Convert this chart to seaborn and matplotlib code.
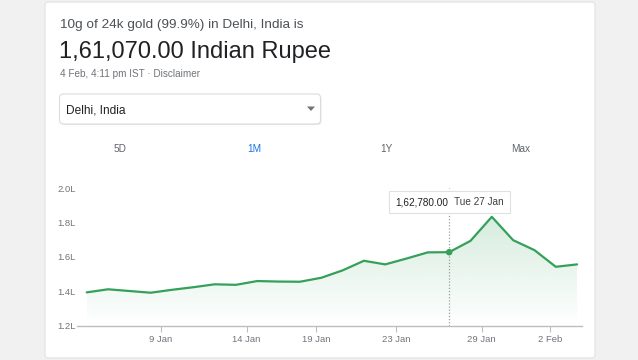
import numpy as np
import matplotlib
matplotlib.use("Agg")
import matplotlib.pyplot as plt
import seaborn as sns
from matplotlib.patches import FancyBboxPatch, Polygon
from matplotlib.offsetbox import TextArea, HPacker, AnnotationBbox

sns.set_theme(style="white")
plt.rcParams['font.family'] = ['Liberation Sans', 'DejaVu Sans']

# --- data (price in lakh rupees, one value per sample) ---
prices = [1.394, 1.412, 1.402, 1.392, 1.409, 1.424, 1.441, 1.438, 1.460, 1.457,
          1.456, 1.479, 1.522, 1.578, 1.557, 1.591, 1.627, 1.628, 1.694, 1.834,
          1.698, 1.640, 1.543, 1.557]
date_labels = ["9 Jan", "14 Jan", "19 Jan", "23 Jan", "29 Jan", "2 Feb"]
date_ticks = [3.47, 7.50, 10.75, 14.50, 18.52, 21.75]
y_ticks = [1.2, 1.4, 1.6, 1.8, 2.0]
hover_idx = 17
hover_value = "1,62,780.00"
hover_date = "Tue 27 Jan"
tabs = ["5D", "1M", "1Y", "Max"]

title_small = "10g of 24k gold (99.9%) in Delhi, India is"
title_big = "1,61,070.00 Indian Rupee"
stamp = "4 Feb, 4:11 pm IST · Disclaimer"
place = "Delhi, India"

green = "#34a05a"
grey_txt = "#70757a"

W, H = 638, 360
fig = plt.figure(figsize=(W / 100, H / 100), dpi=100)
fig.patch.set_facecolor("#f1f1f1")

# background layer in pixel coordinates (card, header, tabs)
bg = fig.add_axes([0, 0, 1, 1])
bg.set_xlim(0, W)
bg.set_ylim(H, 0)
bg.axis("off")
bg.add_patch(FancyBboxPatch((45, 2), 550, 356, boxstyle="round,pad=0,rounding_size=3",
                            fc="white", ec="#e2e2e2", lw=0.8))
bg.text(59.5, 27.7, title_small, fontsize=9.7, color="#4d5156", va="baseline")
bg.text(59, 58.3, title_big, fontsize=17, color="#202124", va="baseline")
bg.text(59.5, 76.7, stamp, fontsize=7.2, color=grey_txt, va="baseline")

# dropdown
bg.add_patch(FancyBboxPatch((60.5, 95), 261, 30, boxstyle="round,pad=0,rounding_size=4",
                            fc="#e9e9e9", ec="none", lw=0))
bg.add_patch(FancyBboxPatch((59.5, 94), 261, 30, boxstyle="round,pad=0,rounding_size=4",
                            fc="white", ec="#dadce0", lw=0.8))
bg.text(66, 113.3, place, fontsize=8.6, color="#202124", va="baseline")
bg.add_patch(Polygon([(307, 106.5), (315, 106.5), (311, 111)], closed=True, fc=grey_txt, ec="none"))

# range tabs
for lab, tx in zip(tabs, [120, 254, 386, 520.5]):
    bg.text(tx, 152.5, lab, fontsize=7.2, ha="center", va="baseline",
            color="#1a73e8" if lab == "1M" else "#5f6368")

# --- chart ---
ax = fig.add_axes([77 / W, (H - 325.7) / H, (582 - 77) / W, (325.7 - 188.3) / H])
ax.set_facecolor("none")
x = np.arange(len(prices))

# gradient fill under the line
poly = Polygon([(x[0], y_ticks[0])] + list(zip(x, prices)) + [(x[-1], y_ticks[0])],
               closed=True, fc="none", ec="none")
ax.add_patch(poly)
rgb = matplotlib.colors.to_rgb(green)
grad = np.zeros((256, 1, 4))
grad[..., :3] = rgb
grad[..., 3] = np.linspace(0.0, 0.2, 256).reshape(-1, 1)
im = ax.imshow(grad, extent=[x[0], x[-1], y_ticks[0], max(prices)], origin="lower",
               aspect="auto", zorder=1)
im.set_clip_path(poly)

ax.axvline(hover_idx, color="#9aa0a6", ls=(0, (1, 1.5)), lw=0.9, zorder=0.5)
sns.lineplot(x=x, y=prices, ax=ax, color=green, linewidth=1.6, zorder=3)
sns.scatterplot(x=[x[hover_idx]], y=[prices[hover_idx]], ax=ax, color=green, s=22,
                edgecolor="none", zorder=4)

ax.set_xlim(-0.455, 23.23)
ax.set_ylim(y_ticks[0], y_ticks[-1])
ax.set_xticks(date_ticks)
ax.set_xticklabels(date_labels)
ax.set_yticks(y_ticks)
ax.set_yticklabels([f"{v:.1f}L" for v in y_ticks])
ax.tick_params(axis="x", length=4, width=0.8, color="#bdbdbd", labelsize=6.8,
               labelcolor=grey_txt, pad=2.5, bottom=True)
ax.tick_params(axis="y", length=0, labelsize=6.8, labelcolor=grey_txt, pad=1)
for s in ["top", "right", "left"]:
    ax.spines[s].set_visible(False)
ax.spines["bottom"].set_color("#bdbdbd")
ax.spines["bottom"].set_linewidth(1)
ax.set_xlabel("")
ax.set_ylabel("")

# tooltip
ta1 = TextArea(hover_value, textprops=dict(color="#202124", size=7.2))
ta2 = TextArea(hover_date, textprops=dict(color="#3c4043", size=7.2))
pack = HPacker(children=[ta1, ta2], sep=4, pad=0, align="center")
ab = AnnotationBbox(pack, (hover_idx, 1.92), frameon=True, box_alignment=(0.5, 0.5),
                    fontsize=10, pad=0.45,
                    bboxprops=dict(boxstyle="square,pad=0.45", ec="#e0e0e0", fc="white", lw=0.8),
                    zorder=5)
ax.add_artist(ab)

fig.savefig("out.png", dpi=100)
